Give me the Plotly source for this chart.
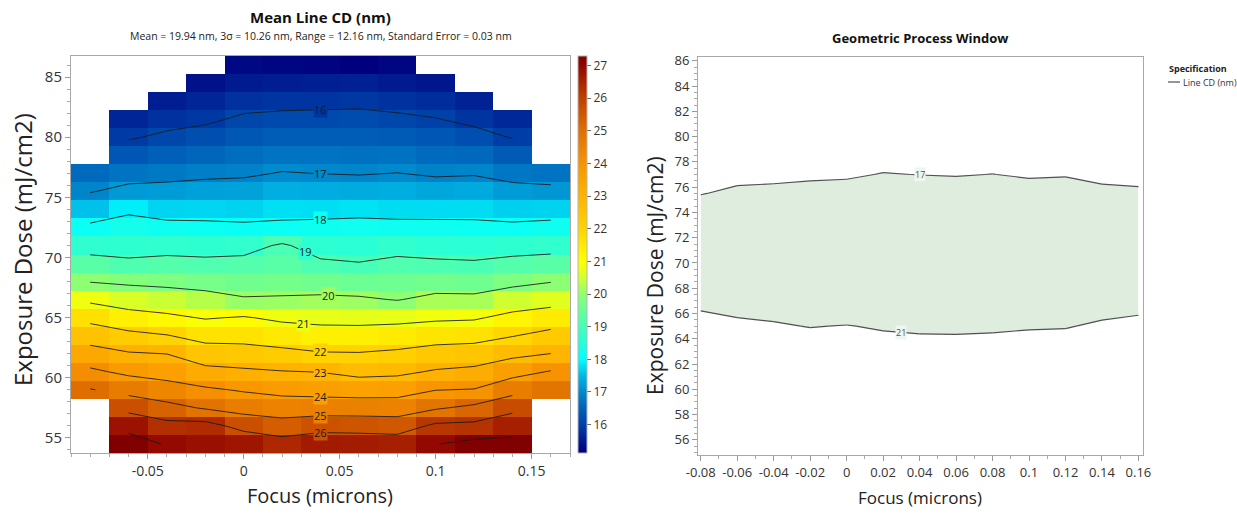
import numpy as np
import plotly.graph_objects as go

# ---------------------------------------------------------------- data
focus_um = [-0.08, -0.06, -0.04, -0.02, 0.0, 0.02, 0.04, 0.06, 0.08, 0.10, 0.12, 0.14, 0.16]
dose_mj = [86.0, 84.5, 83.0, 81.5, 80.0, 78.5, 77.0, 75.5, 74.0, 72.5, 71.0,
           69.5, 68.0, 66.5, 65.0, 63.5, 62.0, 60.5, 59.0, 57.5, 56.0, 54.5]
N = None
# mean line CD (nm), one row per dose (top to bottom), one column per focus
line_cd_nm = [
    [N, N, N, N, 15.25, 15.20, 15.18, 15.13, 15.20, N, N, N, N],
    [N, N, N, 15.37, 15.50, 15.55, 15.56, 15.58, 15.50, 15.45, N, N, N],
    [N, N, 15.55, 15.64, 15.80, 15.84, 15.86, 15.88, 15.82, 15.75, 15.60, N, N],
    [N, 15.65, 15.80, 15.90, 16.09, 16.14, 16.15, 16.16, 16.10, 16.02, 15.86, 15.68, N],
    [N, 15.94, 16.11, 16.22, 16.36, 16.43, 16.43, 16.43, 16.40, 16.32, 16.20, 15.97, N],
    [N, 16.33, 16.46, 16.54, 16.64, 16.73, 16.72, 16.70, 16.71, 16.62, 16.58, 16.38, N],
    [16.60, 16.73, 16.80, 16.87, 16.91, 17.03, 16.99, 16.96, 17.01, 16.92, 16.95, 16.78, 16.72],
    [16.96, 17.19, 17.21, 17.26, 17.27, 17.40, 17.38, 17.37, 17.39, 17.32, 17.35, 17.21, 17.16],
    [17.56, 17.88, 17.70, 17.71, 17.68, 17.78, 17.77, 17.80, 17.76, 17.75, 17.76, 17.67, 17.69],
    [18.14, 18.28, 18.20, 18.17, 18.13, 18.15, 18.19, 18.22, 18.20, 18.20, 18.18, 18.14, 18.21],
    [18.69, 18.68, 18.71, 18.67, 18.72, 19.10, 18.66, 18.62, 18.72, 18.65, 18.62, 18.67, 18.72],
    [19.29, 19.14, 19.23, 19.18, 19.22, 19.30, 19.12, 19.03, 19.18, 19.12, 19.08, 19.22, 19.31],
    [19.97, 19.86, 19.79, 19.70, 19.62, 19.67, 19.62, 19.56, 19.58, 19.64, 19.61, 19.79, 19.97],
    [20.83, 20.57, 20.44, 20.29, 20.07, 20.09, 20.14, 20.10, 19.97, 20.19, 20.18, 20.48, 20.66],
    [21.72, 21.35, 21.17, 20.94, 21.06, 20.83, 20.74, 20.72, 20.74, 20.85, 20.90, 21.24, 21.46],
    [22.57, 22.24, 22.04, 21.68, 21.68, 21.52, 21.38, 21.37, 21.47, 21.62, 21.67, 21.96, 22.29],
    [23.38, 23.08, 22.99, 22.46, 22.38, 22.24, 22.07, 22.05, 22.16, 22.37, 22.45, 22.78, 23.01],
    [24.17, 23.81, 23.64, 23.28, 23.15, 23.04, 22.98, 22.75, 22.82, 23.09, 23.23, 23.67, 24.06],
    [25.05, 24.68, 24.38, 24.13, 23.92, 23.74, 23.66, 23.58, 23.61, 23.98, 24.04, 24.65, 24.90],
    [N, 25.69, 25.30, 24.91, 24.63, 24.50, 24.52, 24.53, 24.51, 24.90, 25.21, 25.76, N],
    [N, 26.80, 26.30, 26.35, 25.68, 25.39, 25.62, 25.57, 25.51, 26.18, 26.23, 26.57, N],
    [N, 27.29, 26.95, 26.85, 26.75, 26.41, 26.65, 26.64, 26.56, 26.97, 27.27, 27.28, N],
]

cd_levels = [16, 17, 18, 19, 20, 21, 22, 23, 24, 25, 26, 27]
label_levels = [16, 17, 18, 19, 20, 21, 22, 23, 24, 25, 26]
spec_limits = [17, 21]
spec_name = "Line CD (nm)"

left_focus_ticks = [-0.05, 0.0, 0.05, 0.10, 0.15]
left_focus_text = ["-0.05", "0", "0.05", "0.1", "0.15"]
right_focus_ticks = [-0.08, -0.06, -0.04, -0.02, 0.0, 0.02, 0.04, 0.06, 0.08, 0.10, 0.12, 0.14, 0.16]
right_focus_text = ["-0.08", "-0.06", "-0.04", "-0.02", "0", "0.02", "0.04", "0.06", "0.08",
                    "0.1", "0.12", "0.14", "0.16"]

title_text = "Mean Line CD (nm)"
subtitle_text = "Mean = 19.94 nm, 3\u03c3 = 10.26 nm, Range = 12.16 nm, Standard Error = 0.03 nm"
right_title_text = "Geometric Process Window"
legend_title_text = "Specification"
dose_title = "Exposure Dose (mJ/cm2)"
focus_title = "Focus (microns)"

# ---------------------------------------------------------------- styles
FONT = "Open Sans"
W, H = 1237, 514
cb_values = [15.13, 15.5, 16, 16.5, 17, 17.5, 18, 18.5, 19, 19.5, 20, 20.5, 21,
             22, 23, 24, 25, 26, 27, 27.29]
cb_colors = ["#00007F", "#001A8F", "#0040A8", "#0062BA", "#0088CC", "#00B8E6", "#00FFFF",
             "#22FFDD", "#44FFBB", "#66FF99", "#90FF70", "#D2FF2C", "#FFFF00", "#FFD400",
             "#FFB400", "#F89400", "#E07000", "#C04000", "#920600", "#800000"]
label_focus = [0.04, 0.04, 0.04, 0.032, 0.044, 0.031, 0.04, 0.04, 0.04, 0.04, 0.04]
spec_label_focus = [0.04, 0.03]
LINE_SPEC = "#505050"

# ---------------------------------------------------------------- helpers
z = np.array(line_cd_nm, dtype=float)
x = np.array(focus_um, dtype=float)
y = np.array(dose_mj, dtype=float)
zmin, zmax = float(np.nanmin(z)), float(np.nanmax(z))

colorscale = []
for v, c in zip(cb_values, cb_colors):
    t = (v - cb_values[0]) / (cb_values[-1] - cb_values[0])
    colorscale.append([min(max(t, 0.0), 1.0), c])
colorscale[0][0] = 0.0
colorscale[-1][0] = 1.0


def hex_rgb(h):
    h = h.lstrip("#")
    return tuple(int(h[k:k + 2], 16) for k in (0, 2, 4))


def colour_for(v):
    v = min(max(v, cb_values[0]), cb_values[-1])
    for k in range(len(cb_values) - 1):
        if cb_values[k] <= v <= cb_values[k + 1]:
            t = (v - cb_values[k]) / (cb_values[k + 1] - cb_values[k])
            a, b = hex_rgb(cb_colors[k]), hex_rgb(cb_colors[k + 1])
            return "rgb(%d,%d,%d)" % tuple(round(p + t * (q - p)) for p, q in zip(a, b))
    return cb_colors[-1]


def iso_segments(level):
    """Marching squares on the measured grid; squares touching a gap are skipped."""
    segs = []
    ny, nx = z.shape
    for i in range(ny - 1):
        for j in range(nx - 1):
            c = [(x[j], y[i], z[i, j]), (x[j + 1], y[i], z[i, j + 1]),
                 (x[j + 1], y[i + 1], z[i + 1, j + 1]), (x[j], y[i + 1], z[i + 1, j])]
            vals = [p[2] for p in c]
            if any(np.isnan(v) for v in vals):
                continue
            pts = []
            for k in range(4):
                (x0, y0, v0), (x1, y1, v1) = c[k], c[(k + 1) % 4]
                if (v0 < level) != (v1 < level):
                    t = (level - v0) / (v1 - v0)
                    pts.append((x0 + t * (x1 - x0), y0 + t * (y1 - y0)))
            if len(pts) == 2:
                segs.append((pts[0], pts[1]))
            elif len(pts) == 4:
                centre = np.mean(vals)
                if (centre < level) == (vals[0] < level):
                    segs += [(pts[0], pts[1]), (pts[2], pts[3])]
                else:
                    segs += [(pts[3], pts[0]), (pts[1], pts[2])]
    return segs


def seg_xy(segs):
    xs, ys = [], []
    for (a, b) in segs:
        xs += [a[0], b[0], None]
        ys += [a[1], b[1], None]
    return xs, ys


def dose_on(segs, fx):
    for (a, b) in segs:
        lo, hi = min(a[0], b[0]), max(a[0], b[0])
        if lo <= fx <= hi and hi > lo:
            return a[1] + (fx - a[0]) / (b[0] - a[0]) * (b[1] - a[1])
    return None


def px(xp):
    return xp / W


def py(yp):
    return 1 - yp / H


iso = {lv: iso_segments(lv) for lv in cd_levels}

# ---------------------------------------------------------------- figure
fig = go.Figure()

fig.add_trace(go.Heatmap(
    x=focus_um, y=dose_mj[::-1], z=line_cd_nm[::-1],
    colorscale=colorscale, zmin=zmin, zmax=zmax, hoverinfo="skip",
    xaxis="x", yaxis="y", showscale=True,
    colorbar=dict(x=px(578), xanchor="left", xpad=0, y=py(56), yanchor="top", ypad=0,
                  len=(453 - 56) / H, lenmode="fraction", thickness=9,
                  outlinewidth=1, outlinecolor="#b5b5b5",
                  tick0=16, dtick=1, ticks="outside", ticklen=4, tickcolor="#666",
                  tickfont=dict(family=FONT, size=12, color="#333")),
))

cx, cy = [], []
for lv in cd_levels:
    sx, sy = seg_xy(iso[lv])
    cx += sx
    cy += sy
fig.add_trace(go.Scatter(x=cx, y=cy, mode="lines", xaxis="x", yaxis="y",
                         line=dict(color="rgba(25,25,25,0.85)", width=1),
                         hoverinfo="skip", showlegend=False))

annotations = []
for lv, fx in zip(label_levels, label_focus):
    dy = dose_on(iso[lv], fx)
    if dy is None:
        continue
    j = int(np.argmin(np.abs(x - fx)))
    i = int(np.argmin(np.abs(y - dy)))
    bg = colour_for(z[i, j]) if not np.isnan(z[i, j]) else "white"
    annotations.append(dict(x=fx, y=dy, xref="x", yref="y", text=str(lv), showarrow=False,
                            xanchor="center", yanchor="middle",
                            font=dict(family=FONT, size=11, color="#1a1a1a"),
                            bgcolor=bg, borderpad=0))

# process window: shaded band between the two specification limits
fig.add_trace(go.Contour(
    x=focus_um, y=dose_mj[::-1], z=line_cd_nm[::-1], xaxis="x2", yaxis="y2",
    contours=dict(type="constraint", operation="][", value=spec_limits, showlabels=False),
    fillcolor="#DEEDDE", line=dict(width=0, color="rgba(0,0,0,0)"),
    showscale=False, hoverinfo="skip", showlegend=False,
))
sx_all, sy_all = [], []
for lv in spec_limits:
    sx, sy = seg_xy(iso[lv])
    sx_all += sx
    sy_all += sy
fig.add_trace(go.Scatter(x=sx_all, y=sy_all, mode="lines", xaxis="x2", yaxis="y2",
                         name=spec_name, line=dict(color=LINE_SPEC, width=1.2),
                         hoverinfo="skip", showlegend=False))
for lv, fx in zip(spec_limits, spec_label_focus):
    dy = dose_on(iso[lv], fx)
    if dy is None:
        continue
    annotations.append(dict(x=fx, y=dy, xref="x2", yref="y2", text=str(lv), showarrow=False,
                            xanchor="center", yanchor="middle",
                            font=dict(family=FONT, size=9, color="#555"),
                            bgcolor="#EEF6EE", borderpad=0))


# titles, axis titles and the specification key
def note(xp, yp, text, size, **kw):
    d = dict(x=px(xp), y=py(yp), xref="paper", yref="paper", text=text, showarrow=False,
             xanchor="center", yanchor="middle", font=dict(family=FONT, size=size, color="#222"))
    d.update(kw)
    return d


annotations += [
    note(320, 17, "<b>%s</b>" % title_text, 15, font=dict(family=FONT, size=15, color="#111")),
    note(321, 36, subtitle_text, 10.5),
    note(920, 38, "<b>%s</b>" % right_title_text, 13, font=dict(family=FONT, size=13, color="#111")),
    note(22, 250, dose_title, 24, textangle=-90),
    note(320, 495, focus_title, 20),
    note(655, 276, dose_title, 21, textangle=-90),
    note(920, 497, focus_title, 17),
    note(1167, 69, "<b>%s</b>" % legend_title_text, 9, xanchor="left"),
    note(1181, 82, spec_name, 9, xanchor="left", font=dict(family=FONT, size=9, color="#333")),
]
shapes = [dict(type="line", xref="paper", yref="paper", x0=px(1168), x1=px(1180),
               y0=py(82), y1=py(82), line=dict(color=LINE_SPEC, width=1.2))]

axis_common = dict(showline=True, mirror=True, linecolor="#a8a8a8", linewidth=1,
                   showgrid=False, zeroline=False, ticks="outside", ticklen=5,
                   tickcolor="#999", automargin=False)

fig.update_layout(
    width=W, height=H, autosize=False,
    margin=dict(l=0, r=0, t=0, b=0, autoexpand=False),
    paper_bgcolor="white", plot_bgcolor="white",
    font=dict(family=FONT, color="#333"),
    showlegend=False,
    xaxis=dict(domain=[px(71), px(570)], range=[-0.09, 0.17], anchor="y",
               tickmode="array", tickvals=left_focus_ticks, ticktext=left_focus_text,
               tickfont=dict(size=14, color="#333"),
               minor=dict(ticks="outside", ticklen=3, tickcolor="#aaa", dtick=0.01, tick0=0),
               **axis_common),
    yaxis=dict(domain=[py(453), py(56)], range=[53.75, 86.75], anchor="x",
               tick0=55, dtick=5, tickfont=dict(size=15, color="#333"),
               minor=dict(ticks="outside", ticklen=3, tickcolor="#aaa", dtick=1),
               **axis_common),
    xaxis2=dict(domain=[px(698), px(1143)], range=[-0.0815, 0.1625], anchor="y2",
                tickmode="array", tickvals=right_focus_ticks, ticktext=right_focus_text,
                tickfont=dict(size=13, color="#333"),
                minor=dict(ticks="outside", ticklen=3, tickcolor="#aaa", dtick=0.01, tick0=0),
                **axis_common),
    yaxis2=dict(domain=[py(455), py(57)], range=[54.8, 86.3], anchor="x2",
                tick0=56, dtick=2, tickfont=dict(size=13, color="#333"),
                minor=dict(ticks="outside", ticklen=3, tickcolor="#aaa", dtick=0.5),
                **axis_common),
    annotations=annotations,
    shapes=shapes,
)

fig.write_html("out.html")
